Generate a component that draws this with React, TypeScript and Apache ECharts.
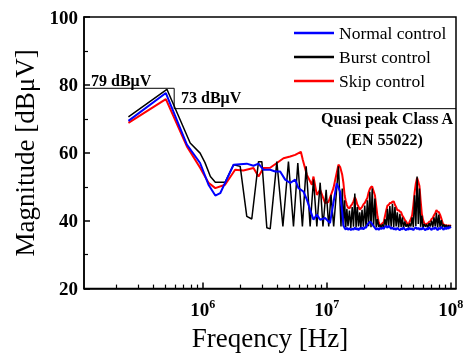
import React, { useEffect, useRef } from 'react';
import * as echarts from 'echarts';

const seriesNames = ['Normal control', 'Burst control', 'Skip control'];
const seriesColors = ['#0000ff', '#000000', '#ff0000'];

// Sparse low-frequency part (Hz, dBµV)
const normalFreqHz = [2.51e5, 5.03e5, 7.43e5, 9.5e5, 1.11e6, 1.26e6, 1.38e6, 1.77e6, 2.26e6, 2.56e6, 2.81e6, 3.08e6, 3.49e6, 3.83e6, 4.2e6, 4.61e6, 5.06e6, 5.55e6, 5.9e6, 6.47e6, 6.9e6, 7.33e6, 7.8e6, 8.3e6, 8.83e6, 9.68e6, 1.06e7, 1.2e7, 1.28e7];
const normalDb = [69.4, 77.6, 62.4, 57.0, 50.6, 47.4, 48.1, 56.5, 56.8, 56.2, 56.8, 55.0, 55.0, 54.5, 54.5, 52.1, 51.1, 52.1, 49.6, 48.6, 46.2, 43.2, 40.3, 41.8, 40.3, 40.8, 39.3, 51.0, 48.5];

const burstFreqHz = [2.51e5, 5.13e5, 7.9e5, 9.5e5, 1.04e6, 1.15e6, 1.26e6, 1.51e6, 1.77e6, 2.0e6, 2.26e6, 2.48e6, 2.81e6, 2.99e6, 3.28e6, 3.49e6, 3.95e6, 4.42e6, 4.9e6, 5.38e6, 5.83e6, 6.35e6, 6.81e6, 7.33e6, 7.8e6, 8.3e6, 8.83e6, 9.3e6, 9.87e6, 1.035e7, 1.08e7, 1.135e7, 1.24e7, 1.3e7];
const burstDb = [70.6, 78.7, 62.9, 59.9, 57.1, 53.0, 51.3, 51.3, 56.5, 56.0, 41.3, 40.5, 57.4, 57.4, 37.9, 37.6, 57.4, 38.3, 57.4, 38.3, 57.0, 38.3, 56.0, 38.3, 52.1, 38.3, 51.2, 38.3, 49.1, 38.3, 47.6, 38.3, 56.0, 38.3];

const skipFreqHz = [2.51e5, 5.03e5, 7.43e5, 9.5e5, 1.11e6, 1.26e6, 1.51e6, 1.82e6, 2.12e6, 2.56e6, 2.81e6, 3.08e6, 3.49e6, 3.95e6, 4.47e6, 5.06e6, 5.55e6, 6.17e6, 6.4e6, 6.9e6, 7.57e6, 7.8e6, 8.3e6, 8.83e6, 9.68e6, 1.03e7, 1.13e7, 1.24e7, 1.28e7];
const skipDb = [68.8, 75.8, 61.9, 55.6, 51.2, 49.6, 50.6, 55.0, 54.8, 55.5, 53.0, 55.5, 55.6, 57.0, 58.4, 58.9, 59.4, 60.3, 57.9, 53.5, 50.6, 53.0, 47.6, 49.1, 45.2, 45.5, 49.6, 56.5, 55.8];

// Dense high-frequency sweep (MHz) shared by the three traces
const denseFreqMHz = [13.3, 13.6, 13.9, 14.2, 14.5, 14.8, 15.2, 15.6, 16, 16.4, 16.8, 17.2, 17.6, 18, 18.4, 18.8, 19.2, 19.7, 20.2, 20.7, 21.2, 21.7, 22.2, 22.7, 23.2, 23.8, 24.4, 25, 25.6, 26.2, 26.8, 27.4, 28, 28.7, 29.4, 30.1, 30.8, 31.5, 32.2, 33, 33.8, 34.6, 35.4, 36.2, 37, 37.9, 38.8, 39.7, 40.6, 41.5, 42.5, 43.5, 44.5, 45.5, 46.5, 47.6, 48.7, 49.8, 51, 52.2, 53.4, 54.6, 55.8, 57, 58.3, 59.6, 61, 62.4, 63.8, 65.3, 66.8, 68.3, 69.9, 71.5, 73.1, 74.8, 76.5, 78.2, 80, 81.8, 83.7, 85.6, 87.5, 89.5, 91.5, 93.6, 95.7, 97.9, 100];
const normalDenseDb = [42.5, 38.6, 37.8, 37.4, 37.9, 37.3, 37.8, 37.2, 37.7, 37.3, 38.0, 37.4, 37.8, 37.2, 37.9, 37.5, 38.0, 37.4, 38.1, 37.9, 38.8, 39.3, 39.7, 39.5, 39.0, 38.4, 37.9, 37.4, 37.8, 37.3, 37.9, 37.5, 38.0, 37.6, 38.2, 38.4, 37.9, 38.5, 38.1, 37.6, 38.0, 37.4, 37.8, 37.3, 37.9, 37.5, 37.2, 37.8, 37.4, 38.0, 37.5, 37.2, 37.7, 37.3, 37.9, 37.4, 37.8, 37.2, 37.7, 38.1, 37.5, 37.9, 37.3, 37.8, 37.4, 38.0, 37.5, 37.2, 37.8, 37.4, 38.1, 37.6, 37.3, 37.9, 37.5, 38.1, 37.6, 37.2, 37.9, 37.5, 38.2, 37.7, 37.3, 38.0, 37.5, 38.1, 37.6, 38.2, 37.8];
const burstDenseDb = [49.5, 38.3, 46.0, 38.0, 43.5, 38.4, 43.0, 37.9, 44.0, 38.2, 48.0, 38.0, 44.0, 38.3, 42.5, 37.9, 43.2, 38.2, 44.5, 38.0, 46.0, 38.4, 48.5, 38.1, 49.5, 38.3, 46.5, 38.0, 40.5, 38.2, 38.8, 37.9, 38.9, 38.1, 40.5, 38.3, 43.5, 38.0, 44.3, 38.2, 45.0, 38.1, 44.0, 38.3, 42.5, 38.0, 42.0, 38.2, 41.0, 37.9, 39.8, 38.2, 39.0, 38.0, 39.2, 38.3, 41.0, 38.1, 47.5, 38.4, 53.0, 39.0, 49.5, 38.2, 41.5, 38.0, 39.0, 38.2, 38.9, 38.0, 39.3, 38.3, 40.0, 38.1, 41.0, 38.3, 42.3, 38.0, 41.8, 38.2, 40.2, 38.0, 38.9, 38.2, 38.7, 38.0, 38.6, 38.1, 38.6];
const skipDenseDb = [53.5, 51.1, 47.5, 45.8, 44.6, 43.9, 43.6, 44.4, 44.9, 45.7, 46.9, 46.1, 44.8, 44.1, 43.3, 43.7, 44.0, 44.8, 45.2, 46.0, 46.7, 48.3, 49.3, 49.9, 50.1, 48.7, 47.5, 44.4, 41.3, 39.5, 38.5, 38.8, 39.2, 39.5, 41.3, 43.0, 44.5, 44.6, 45.2, 45.2, 45.6, 45.7, 44.7, 44.0, 43.1, 43.1, 42.7, 42.5, 41.5, 41.0, 40.2, 39.8, 39.1, 38.8, 39.7, 40.5, 41.6, 44.5, 48.3, 51.0, 52.6, 51.5, 50.2, 46.0, 42.1, 40.3, 39.3, 38.8, 39.1, 39.2, 39.7, 39.8, 40.5, 40.8, 41.6, 42.2, 43.1, 42.7, 42.5, 41.8, 40.7, 39.5, 38.9, 38.6, 38.7, 38.4, 38.6, 38.5, 38.7];

// Quasi-peak Class A limit (EN 55022)
const limitFreqHz = [1.1e5, 5.87e5, 5.87e5, 1.1e8];
const limitDb = [79, 79, 73, 73];

const xMinHz = 1.1e5;
const xMaxHz = 1.1e8;
const xDecadeExps = [6, 7, 8];
const yMin = 20;
const yMax = 100;
const yStep = 20;

const FONT = "'Liberation Serif', 'Times New Roman', serif";

function toPoints(freqHz: number[], db: number[]) {
  return freqHz.map((f, i) => [Math.log10(f), db[i]]);
}

export default function App() {
  const ref = useRef<HTMLDivElement>(null);
  useEffect(() => {
    if (!ref.current) return;
    const chart = echarts.init(ref.current, undefined, { renderer: 'svg' });
    const denseHz = denseFreqMHz.map((m) => m * 1e6);
    const normal = toPoints(normalFreqHz.concat(denseHz), normalDb.concat(normalDenseDb));
    const burst = toPoints(burstFreqHz.concat(denseHz), burstDb.concat(burstDenseDb));
    const skip = toPoints(skipFreqHz.concat(denseHz), skipDb.concat(skipDenseDb));
    const limit = toPoints(limitFreqHz, limitDb);

    const xMin = Math.log10(xMinHz);
    const xMax = Math.log10(xMaxHz);
    const minorTicks: number[] = [];
    for (let e = 5; e <= 8; e++) {
      for (let m = 2; m <= 9; m++) {
        const v = Math.log10(m) + e;
        if (v > xMin && v < xMax) minorTicks.push(v);
      }
    }

    chart.setOption({
      animation: false,
      grid: {
        left: 84,
        right: 12,
        top: 17,
        bottom: 67,
        show: true,
        borderColor: '#000',
        borderWidth: 1.5,
        backgroundColor: 'transparent',
      },
      legend: {
        data: seriesNames.map((n) => ({ name: n, icon: 'rect' })),
        orient: 'vertical',
        left: 289,
        top: 19,
        itemWidth: 40,
        itemHeight: 2.5,
        itemGap: 6,
        textStyle: { fontFamily: FONT, fontSize: 17.5, color: '#000', lineHeight: 18 },
      },
      xAxis: [
        {
          type: 'value',
          min: xMin,
          max: xMax,
          position: 'bottom',
          name: 'Freqency [Hz]',
          nameLocation: 'middle',
          nameGap: 32,
          nameTextStyle: { fontFamily: FONT, fontSize: 27, color: '#000' },
          axisLine: { show: true, lineStyle: { color: '#000', width: 1.5 } },
          axisTick: { show: true, inside: true, length: 6, customValues: xDecadeExps, lineStyle: { color: '#000', width: 1.5 } },
          axisLabel: {
            show: true,
            customValues: xDecadeExps,
            margin: 9,
            formatter: (v: number) => '{b|10}{s|' + Math.round(v) + '}',
            rich: {
              b: { fontFamily: FONT, fontSize: 19, fontWeight: 'bold', color: '#000', lineHeight: 24 },
              s: { fontFamily: FONT, fontSize: 12, fontWeight: 'bold', color: '#000', verticalAlign: 'top', lineHeight: 12 },
            },
          },
          splitLine: { show: false },
        },
        {
          type: 'value',
          min: xMin,
          max: xMax,
          position: 'bottom',
          axisLine: { show: false },
          axisTick: { show: true, inside: true, length: 4, customValues: minorTicks, lineStyle: { color: '#000', width: 1.2 } },
          axisLabel: { show: false },
          splitLine: { show: false },
        },
      ],
      yAxis: {
        type: 'value',
        min: yMin,
        max: yMax,
        interval: yStep,
        name: 'Magnitude [dBμV]',
        nameLocation: 'middle',
        nameGap: 35,
        nameTextStyle: { fontFamily: FONT, fontSize: 27, color: '#000' },
        axisLine: { show: true, lineStyle: { color: '#000', width: 1.5 } },
        axisTick: { show: true, inside: true, length: 6, lineStyle: { color: '#000', width: 1.5 } },
        minorTick: { show: true, splitNumber: 2, length: 4, lineStyle: { color: '#000', width: 1.2 } },
        axisLabel: { fontFamily: FONT, fontSize: 19, fontWeight: 'bold', color: '#000', margin: 6 },
        splitLine: { show: false },
      },
      series: [
        {
          name: 'Limit',
          type: 'line',
          data: limit,
          symbol: 'none',
          lineStyle: { color: '#000', width: 1 },
          silent: true,
          z: 1,
        },
        {
          name: seriesNames[2],
          type: 'line',
          data: skip,
          symbol: 'none',
          color: seriesColors[2],
          lineStyle: { color: seriesColors[2], width: 2 },
          z: 2,
        },
        {
          name: seriesNames[1],
          type: 'line',
          data: burst,
          symbol: 'none',
          color: seriesColors[1],
          lineStyle: { color: seriesColors[1], width: 1.5 },
          z: 3,
        },
        {
          name: seriesNames[0],
          type: 'line',
          data: normal,
          symbol: 'none',
          color: seriesColors[0],
          lineStyle: { color: seriesColors[0], width: 2 },
          z: 4,
        },
      ],
      graphic: [
        { type: 'text', left: 91, top: 72, style: { text: '79 dBμV', font: `bold 16px ${FONT}`, fill: '#000' } },
        { type: 'text', left: 181, top: 89, style: { text: '73 dBμV', font: `bold 16px ${FONT}`, fill: '#000' } },
        { type: 'text', right: 14, top: 110, style: { text: 'Quasi peak Class A', font: `bold 16px ${FONT}`, fill: '#000' } },
        { type: 'text', left: 346, top: 131, style: { text: '(EN 55022)', font: `bold 16px ${FONT}`, fill: '#000' } },
      ],
    });
    return () => chart.dispose();
  }, []);
  return <div ref={ref} style={{ width: 468, height: 356, position: 'fixed', left: 0, top: 0 }} />;
}
